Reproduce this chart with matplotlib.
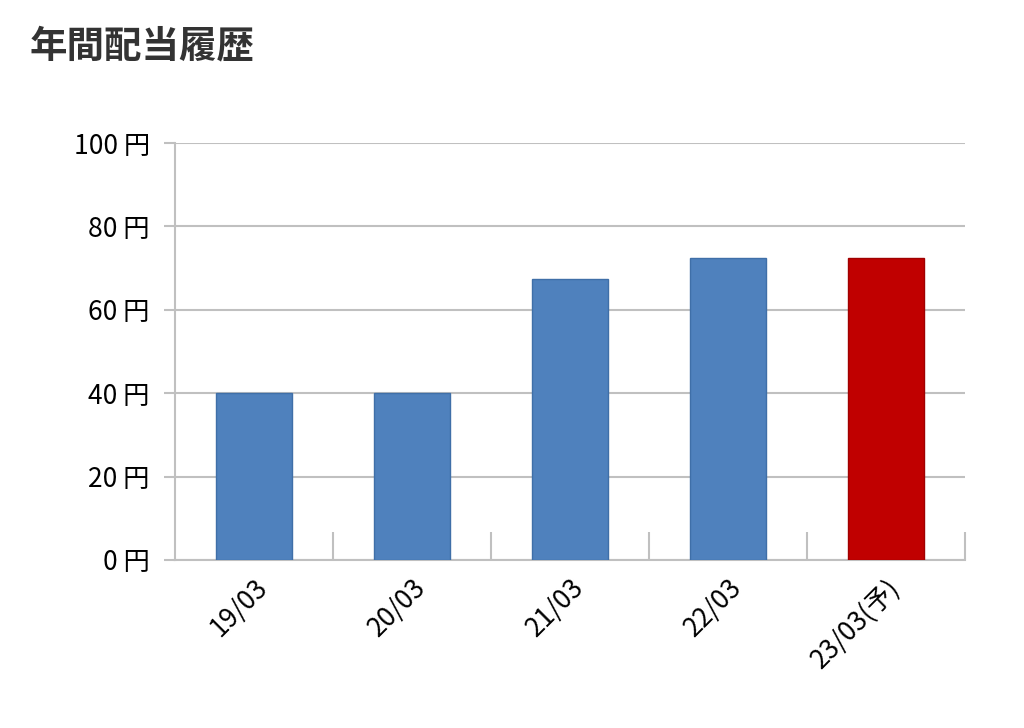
import matplotlib
matplotlib.use("Agg")
import matplotlib.pyplot as plt
import numpy as np

plt.rcParams['font.family'] = ['Noto Sans CJK JP', 'DejaVu Sans']

categories = ["19/03", "20/03", "21/03", "22/03", "23/03(予)"]
values = [40, 40, 67.5, 72.5, 72.5]
colors = ["#4f81bd", "#4f81bd", "#4f81bd", "#4f81bd", "#c00000"]
edges = ["#3f6fa8", "#3f6fa8", "#3f6fa8", "#3f6fa8", "#a00000"]
yticks = [0, 20, 40, 60, 80, 100]

fig = plt.figure(figsize=(10.24, 7.28), dpi=100)
ax = fig.add_axes([175/1024, 1-560/728, 790/1024, 417/728])
x = np.arange(len(categories))
ax.bar(x, values, width=0.48, color=colors, edgecolor=edges, linewidth=1, zorder=3)
ax.set_xlim(-0.5, len(categories)-0.5)
ax.set_ylim(0, 100)
ax.set_yticks(yticks)
ax.set_yticklabels([f"{v} 円" for v in yticks], fontsize=19)
ax.yaxis.grid(True, color="#c0c0c0", linewidth=1.5, zorder=0)
for s in ["top", "right"]:
    ax.spines[s].set_visible(False)
for s in ["left", "bottom"]:
    ax.spines[s].set_color("#c0c0c0")
    ax.spines[s].set_linewidth(1.5)
ax.tick_params(axis='y', length=8, color="#c0c0c0", width=1.5, pad=10)
ax.set_xticks(x)
ax.set_xticklabels(categories, rotation=45, ha='right', rotation_mode='anchor', fontsize=19)
ax.tick_params(axis='x', length=0, pad=10)
ax.set_xticks(np.arange(len(categories)) + 0.5, minor=True)
ax.tick_params(axis='x', which='minor', length=20, direction='in', color="#c0c0c0", width=1.5)
fig.text(30/1024, 1-46/728, "年間配当履歴", fontsize=27, fontweight='bold', va='center', color="#333333")
fig.savefig("out.png", dpi=100)
